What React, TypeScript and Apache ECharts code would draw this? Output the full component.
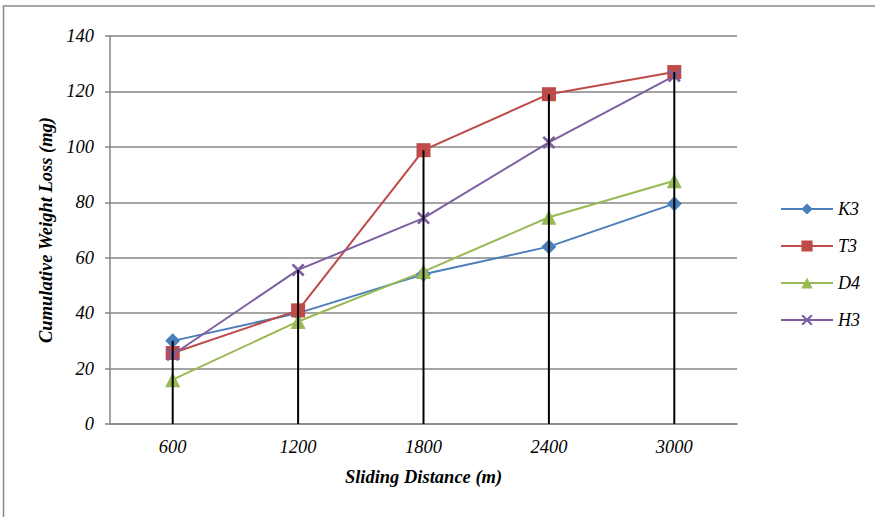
import React, { useEffect, useRef } from "react";
import * as echarts from "echarts";

const distances = ["600", "1200", "1800", "2400", "3000"];
const k3 = [30, 40, 54, 64, 79.5];
const t3 = [25.6, 41, 98.8, 119, 127];
const d4 = [16, 37, 55, 74.6, 87.8];
const h3 = [25, 55.6, 74.3, 101.6, 125.6];
const seriesNames = ["K3", "T3", "D4", "H3"];
const seriesColors = ["#4A7EBB", "#BE4B48", "#98B954", "#7D5FA0"];
const seriesData = [k3, t3, d4, h3];
const seriesSymbols = [
  "diamond",
  "rect",
  "triangle",
  "path://M0,1.4L1.4,0L5,3.6L8.6,0L10,1.4L6.4,5L10,8.6L8.6,10L5,6.4L1.4,10L0,8.6L3.6,5Z",
];
const symbolSizes = [15, 14, 15, 13];

// drop lines run from the axis up to the highest value at each distance
const dropTops = distances.map((_, i) => Math.max(...seriesData.map((s) => s[i])));

const serif = "'Times New Roman', 'Liberation Serif', 'DejaVu Serif', serif";

export default function App() {
  const ref = useRef<HTMLDivElement>(null);

  useEffect(() => {
    if (!ref.current) return;
    const chart = echarts.init(ref.current, undefined, { renderer: "svg" });
    const lineSeries = seriesNames.map((name, i) => ({
      name,
      type: "line",
      data: seriesData[i],
      symbol: seriesSymbols[i],
      symbolSize: symbolSizes[i],
      z: 2,
      lineStyle: { color: seriesColors[i], width: 2 },
      itemStyle: { color: seriesColors[i] },
    }));
    chart.setOption({
      animation: false,
      backgroundColor: "#ffffff",
      textStyle: { fontFamily: serif },
      graphic: [
        {
          type: "rect",
          shape: { x: 3.5, y: 6, width: 900, height: 600 },
          style: { fill: "none", stroke: "#8a8a8a", lineWidth: 1.5 },
          silent: true,
        },
      ],
      grid: { left: 110, right: 138, top: 36, bottom: 93 },
      legend: {
        data: seriesNames,
        orient: "vertical",
        left: 775,
        top: 195,
        itemWidth: 52,
        itemHeight: 14,
        itemGap: 19,
        textStyle: { fontFamily: serif, fontStyle: "italic", fontSize: 18, color: "#000" },
      },
      xAxis: {
        type: "category",
        data: distances,
        boundaryGap: true,
        name: "Sliding Distance (m)",
        nameLocation: "middle",
        nameGap: 43,
        nameTextStyle: { fontFamily: serif, fontStyle: "italic", fontWeight: "bold", fontSize: 18.5, color: "#000" },
        axisLine: { lineStyle: { color: "#868686", width: 1.5 } },
        axisTick: { show: false },
        axisLabel: { fontFamily: serif, fontStyle: "italic", fontSize: 18.5, color: "#000", margin: 13 },
      },
      yAxis: {
        type: "value",
        min: 0,
        max: 140,
        interval: 20,
        name: "Cumulative Weight Loss (mg)",
        nameLocation: "middle",
        nameGap: 51,
        nameTextStyle: { fontFamily: serif, fontStyle: "italic", fontWeight: "bold", fontSize: 18.5, color: "#000" },
        axisLine: { show: true, lineStyle: { color: "#868686", width: 1.5 } },
        axisTick: { show: true, length: 5, lineStyle: { color: "#868686", width: 1.5 } },
        axisLabel: { fontFamily: serif, fontStyle: "italic", fontSize: 18.5, color: "#000", margin: 16 },
        splitLine: { lineStyle: { color: "#868686", width: 1.5 } },
      },
      series: [
        ...lineSeries,
        {
          name: "drop",
          type: "bar",
          data: dropTops,
          barWidth: 2,
          z: 5,
          itemStyle: { color: "#000" },
        },
      ],
    });
    return () => chart.dispose();
  }, []);

  return (
    <div
      ref={ref}
      style={{ position: "fixed", left: 0, top: 0, width: 875, height: 517 }}
    />
  );
}
